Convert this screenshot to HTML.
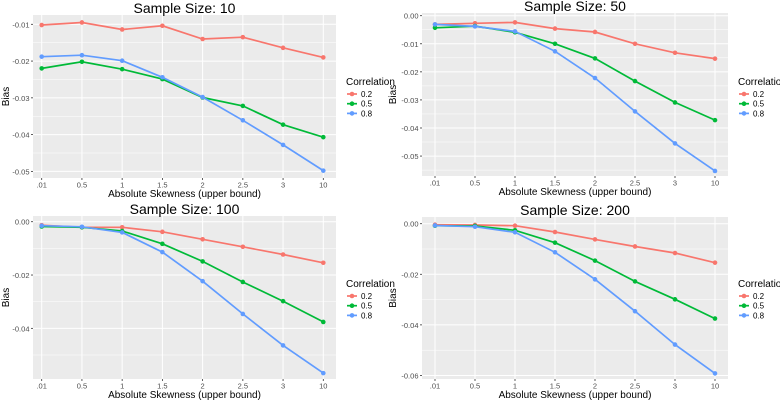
<!DOCTYPE html>
<html><head><meta charset="utf-8"><style>
html,body{margin:0;padding:0;background:#fff}
svg{display:block;font-family:"Liberation Sans",sans-serif}
</style></head><body>
<svg id="c" width="780" height="402" viewBox="0 0 780 402"></svg>
<script>
const categories = [".01","0.5","1","1.5","2","2.5","3","10"];
const correlations = ["0.2","0.5","0.8"];
const titles = ["Sample Size: 10","Sample Size: 50","Sample Size: 100","Sample Size: 200"];
const n10_r02 = [-0.0102,-0.0095,-0.0114,-0.0104,-0.0140,-0.0135,-0.0164,-0.0190];
const n10_r05 = [-0.0220,-0.0202,-0.0222,-0.0249,-0.0299,-0.0322,-0.0373,-0.0407];
const n10_r08 = [-0.0188,-0.0184,-0.0199,-0.0244,-0.0298,-0.0361,-0.0428,-0.0498];
const n50_r02 = [-0.0031,-0.0027,-0.0024,-0.0046,-0.0058,-0.0100,-0.0132,-0.0153];
const n50_r05 = [-0.0043,-0.0037,-0.0059,-0.0100,-0.0152,-0.0233,-0.0309,-0.0372];
const n50_r08 = [-0.0031,-0.0038,-0.0056,-0.0127,-0.0222,-0.0341,-0.0455,-0.0553];
const n100_r02 = [-0.0013,-0.0021,-0.0021,-0.0038,-0.0066,-0.0094,-0.0123,-0.0154];
const n100_r05 = [-0.0018,-0.0021,-0.0035,-0.0083,-0.0149,-0.0226,-0.0298,-0.0376];
const n100_r08 = [-0.0015,-0.0019,-0.0040,-0.0114,-0.0223,-0.0346,-0.0464,-0.0568];
const n200_r02 = [-0.0004,-0.0005,-0.0008,-0.0033,-0.0062,-0.0090,-0.0116,-0.0154];
const n200_r05 = [-0.0008,-0.0009,-0.0026,-0.0075,-0.0146,-0.0228,-0.0299,-0.0375];
const n200_r08 = [-0.0007,-0.0012,-0.0034,-0.0113,-0.0220,-0.0346,-0.0478,-0.0592];
const ticks10 = [-0.01,-0.02,-0.03,-0.04,-0.05];
const tickLabels10 = ["-0.01","-0.02","-0.03","-0.04","-0.05"];
const ticks50 = [0,-0.01,-0.02,-0.03,-0.04,-0.05];
const tickLabels50 = ["0.00","-0.01","-0.02","-0.03","-0.04","-0.05"];
const ticks100 = [0,-0.02,-0.04];
const tickLabels100 = ["0.00","-0.02","-0.04"];
const ticks200 = [0,-0.02,-0.04,-0.06];
const tickLabels200 = ["0.00","-0.02","-0.04","-0.06"];
const colors = ["#F8766D","#00BA38","#619CFF"];

const panels = [
 {x0:33,x1:336,y0:15,y1:178,c0:41.7,c1:323.3,dTop:-0.00747,dBot:-0.0518,ticks:ticks10,labels:tickLabels10,series:[n10_r02,n10_r05,n10_r08],lx:346,ly:81},
 {x0:422,x1:728,y0:13,y1:176,c0:435,c1:715,dTop:0.00096,dBot:-0.0571,ticks:ticks50,labels:tickLabels50,series:[n50_r02,n50_r05,n50_r08],lx:738,ly:81},
 {x0:33,x1:336,y0:216,y1:379,c0:41.7,c1:323.3,dTop:0.00214,dBot:-0.0590,ticks:ticks100,labels:tickLabels100,series:[n100_r02,n100_r05,n100_r08],lx:346,ly:283},
 {x0:422,x1:728,y0:217,y1:379,c0:435,c1:715,dTop:0.00265,dBot:-0.0614,ticks:ticks200,labels:tickLabels200,series:[n200_r02,n200_r05,n200_r08],lx:738,ly:283}
];
const svg = document.getElementById('c');
const NS = "http://www.w3.org/2000/svg";
function mk(tag, attrs, parent){const e=document.createElementNS(NS,tag);for(const k in attrs)e.setAttribute(k,attrs[k]);parent.appendChild(e);return e;}

panels.forEach((p,pi)=>{
  const g = mk('g',{},svg);
  
  
  const xS = i => p.c0 + (p.c1-p.c0)*i/(categories.length-1);
  const yS = v => p.y0 + (p.dTop - v)/(p.dTop - p.dBot)*(p.y1-p.y0);
  const bg = mk('rect',{x:p.x0,y:p.y0,width:p.x1-p.x0,height:p.y1-p.y0,fill:'#EBEBEB'},g);
  
  
  const step = p.ticks[0]-p.ticks[1];
  for(let v=p.ticks[0]+step/2; v>p.dBot; v-=step){
    if(v>p.dTop) continue;
    const y=yS(v);
    const l=mk('line',{x1:p.x0,x2:p.x1,y1:y,y2:y,stroke:'#fff','stroke-width':0.5},g);
    
    
  }
  p.ticks.forEach((v,i)=>{
    const y=yS(v);
    const l=mk('line',{x1:p.x0,x2:p.x1,y1:y,y2:y,stroke:'#fff','stroke-width':1},g);
    
    
    mk('line',{x1:p.x0-2,x2:p.x0,y1:y,y2:y,stroke:'#333','stroke-width':0.8},g);
    const t=mk('text',{x:p.x0-3.5,y:y+3,'text-anchor':'end','font-size':7.5,fill:'#4D4D4D'},g);
    t.textContent=p.labels[i];
    
    
  });
  categories.forEach((c,i)=>{
    const x=xS(i);
    const l=mk('line',{x1:x,x2:x,y1:p.y0,y2:p.y1,stroke:'#fff','stroke-width':1},g);
    
    
    mk('line',{x1:x,x2:x,y1:p.y1,y2:p.y1+2,stroke:'#333','stroke-width':0.8},g);
    const t=mk('text',{x:x,y:p.y1+9.5,'text-anchor':'middle','font-size':7.5,fill:'#4D4D4D'},g);
    t.textContent=c;
    
    
  });
  p.series.forEach((s,si)=>{
    const pts=s.map((v,i)=>xS(i).toFixed(1)+','+yS(v).toFixed(1)).join(' ');
    const pl=mk('polyline',{points:pts,fill:'none',stroke:colors[si],'stroke-width':1.7},g);
    
    
    s.forEach((v,i)=>{
      const c=mk('circle',{cx:xS(i),cy:yS(v),r:2.3,fill:colors[si]},g);
      
      
    });
  });
  const tt=mk('text',{x:(p.x0+p.x1)/2,y:p.y0-2,'text-anchor':'middle','font-size':14,fill:'#000'},g);
  tt.textContent=titles[pi];
  
  
  const xt=mk('text',{x:(p.x0+p.x1)/2,y:p.y1+19,'text-anchor':'middle','font-size':10,fill:'#000'},g);
  xt.textContent='Absolute Skewness (upper bound)';
  
  
  const yc=(p.y0+p.y1)/2, yx=(pi%2===0)?9:396;
  const yt=mk('text',{x:yx,y:yc,'text-anchor':'middle','font-size':10,fill:'#000',transform:'rotate(-90 '+yx+' '+yc+')'},g);
  yt.textContent='Bias';
  
  
  const lg=mk('g',{},g);
  
  
  const lt=mk('text',{x:p.lx,y:p.ly+4,'font-size':10,fill:'#000'},lg);
  lt.textContent='Correlation';
  
  
  correlations.forEach((c,ci)=>{
    const y=p.ly+13+ci*9.7;
    const e=mk('g',{},lg);
    
    
    mk('line',{x1:p.lx+1,x2:p.lx+11,y1:y,y2:y,stroke:colors[ci],'stroke-width':1.7},e);
    mk('circle',{cx:p.lx+6,cy:y,r:2.3,fill:colors[ci]},e);
    const t=mk('text',{x:p.lx+15,y:y+3,'font-size':8,fill:'#000'},e);
    t.textContent=c;
  });
});
</script>
</body></html>
